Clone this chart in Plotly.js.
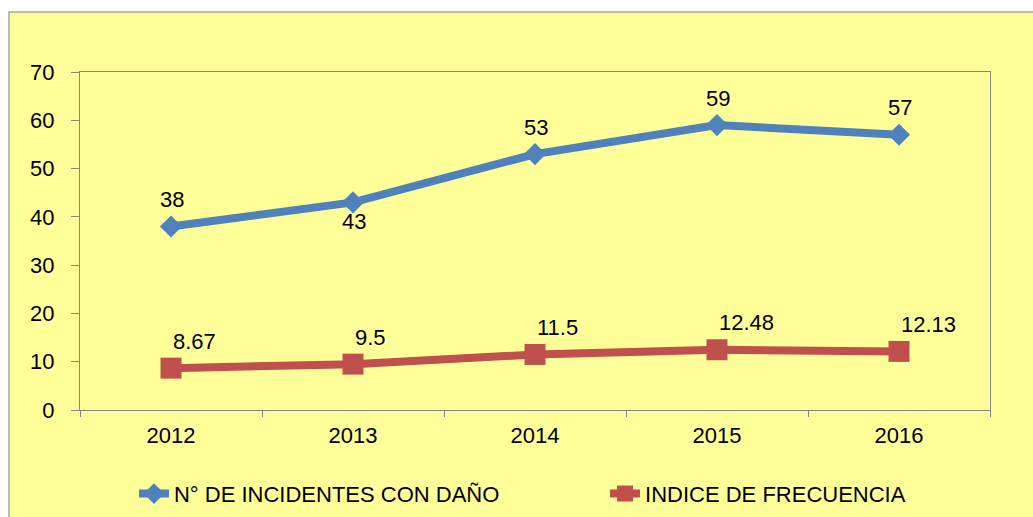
<!DOCTYPE html>
<html>
<head>
<meta charset="utf-8">
<script src="https://cdn.plot.ly/plotly-3.0.1.min.js"></script>
<style>html,body{margin:0;padding:0;background:#fff;}#chart{width:1033px;height:517px;}</style>
</head>
<body>
<div id="chart"></div>
<script>
const years = ['2012', '2013', '2014', '2015', '2016'];
const incidentes = [38, 43, 53, 59, 57];
const frecuencia = [8.67, 9.5, 11.5, 12.48, 12.13];
const incidentesLabels = ['38', '43', '53', '59', '57'];
const frecuenciaLabels = ['8.67', '9.5', '11.5', '12.48', '12.13'];
const incidentesLabelSide = ['above', 'below', 'above', 'above', 'above'];
const seriesNames = ['N° DE INCIDENTES CON DAÑO', 'INDICE DE FRECUENCIA'];
const yTicks = [0, 10, 20, 30, 40, 50, 60, 70];

const FONT = 'Liberation Sans, Arial, sans-serif';
const FS = 22;
const BLUE = '#4F81BD';
const RED = '#C0504D';
const AXIS = '#868686';

const traces = [
  {
    x: years, y: incidentes, name: seriesNames[0], type: 'scatter', mode: 'lines+markers',
    line: {color: BLUE, width: 8},
    marker: {symbol: 'diamond', size: 17, color: BLUE},
    hoverinfo: 'x+y', legend: 'legend'
  },
  {
    x: years, y: frecuencia, name: seriesNames[1], type: 'scatter', mode: 'lines+markers',
    line: {color: RED, width: 8},
    marker: {symbol: 'square', size: 21, color: RED},
    hoverinfo: 'x+y', legend: 'legend2'
  }
];

const annotations = [];
years.forEach((yr, i) => {
  const above = incidentesLabelSide[i] === 'above';
  annotations.push({
    x: i, y: incidentes[i], xref: 'x', yref: 'y', text: incidentesLabels[i],
    showarrow: false, xanchor: 'center', yanchor: 'middle',
    xshift: 1, yshift: above ? 27 : -19,
    font: {family: FONT, size: FS, color: '#000'}
  });
  annotations.push({
    x: i, y: frecuencia[i], xref: 'x', yref: 'y', text: frecuenciaLabels[i],
    showarrow: false, xanchor: 'left', yanchor: 'middle',
    xshift: 0, yshift: 27,
    font: {family: FONT, size: FS, color: '#000'}
  });
});

const legendBase = {
  orientation: 'h', xref: 'container', yref: 'container',
  y: 0.045, xanchor: 'left', yanchor: 'middle',
  bgcolor: 'rgba(0,0,0,0)', font: {family: FONT, size: FS, color: '#000'},
  itemwidth: 30
};

const layout = {
  width: 1033, height: 517,
  margin: {l: 80, r: 43, t: 72, b: 107, pad: 0},
  paper_bgcolor: '#FFFFFF',
  plot_bgcolor: '#FFFFFF',
  font: {family: FONT, size: FS, color: '#000'},
  showlegend: true,
  legend: Object.assign({}, legendBase, {x: 0.1297}),
  legend2: Object.assign({}, legendBase, {x: 0.5857}),
  xaxis: {
    type: 'category', range: [-0.5, 4.5], tickson: 'boundaries', ticks: 'outside', ticklen: 6, tickcolor: AXIS,
    showline: true, linecolor: AXIS, linewidth: 1, mirror: true,
    showgrid: false, zeroline: false, fixedrange: true,
    tickfont: {family: FONT, size: FS, color: '#000'}, ticklabelstandoff: 6
  },
  yaxis: {
    range: [0, 70], tickvals: yTicks, ticktext: yTicks.map(String),
    ticks: 'outside', ticklen: 8, tickcolor: AXIS,
    showline: true, linecolor: AXIS, linewidth: 1, mirror: true,
    showgrid: false, zeroline: false, fixedrange: true,
    tickfont: {family: FONT, size: FS, color: '#000'}, ticklabelstandoff: 12
  },
  shapes: [{
    type: 'rect', xref: 'paper', yref: 'paper', layer: 'below',
    x0: -0.078, x1: 1.1, y0: -0.4, y1: 1.1775,
    fillcolor: '#FFFF99', line: {color: '#A6A6A6', width: 1.5}
  }],
  annotations: annotations
};

Plotly.newPlot('chart', traces, layout, {displayModeBar: false, staticPlot: true});
</script>
</body>
</html>
